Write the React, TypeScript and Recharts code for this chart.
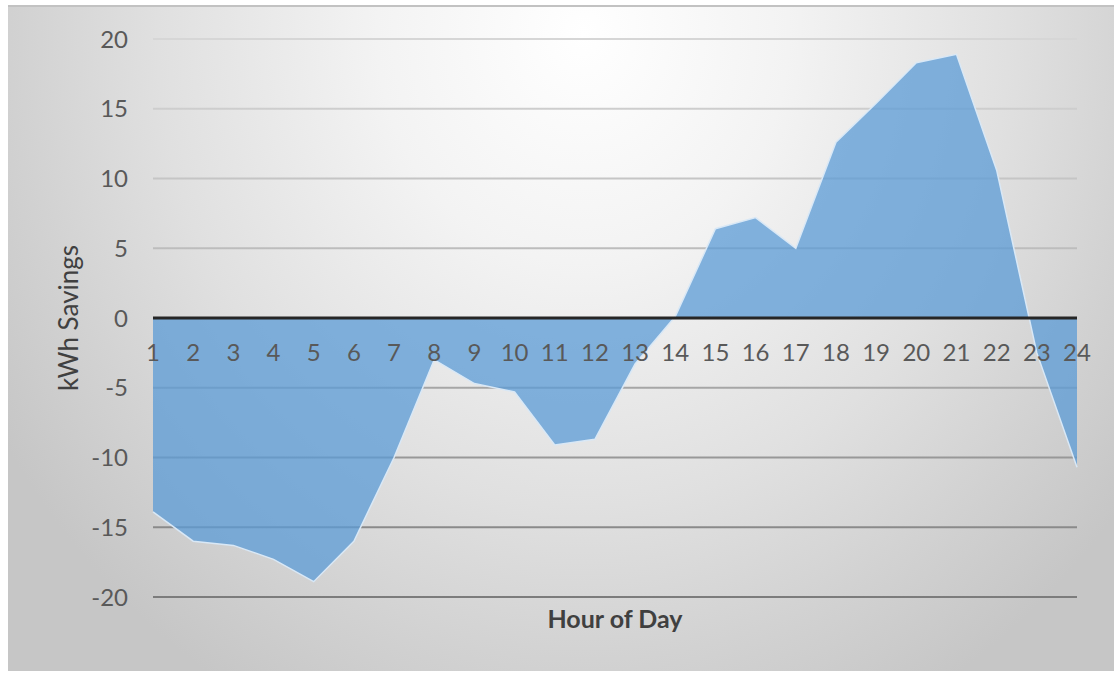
import React from "react";
import {
  AreaChart,
  Area,
  XAxis,
  YAxis,
  CartesianGrid,
  ReferenceLine,
  ReferenceDot,
} from "recharts";

const hours = [1, 2, 3, 4, 5, 6, 7, 8, 9, 10, 11, 12, 13, 14, 15, 16, 17, 18, 19, 20, 21, 22, 23, 24];
const savings = [
  -13.9, -16.0, -16.3, -17.3, -18.9, -16.0, -10.0, -3.0, -4.7, -5.3, -9.1, -8.7,
  -3.3, 0.1, 6.4, 7.2, 5.0, 12.6, 15.4, 18.3, 18.9, 10.6, -2.5, -10.7,
];
const yTicks = [-20, -15, -10, -5, 0, 5, 10, 15, 20];
const xTitle = "Hour of Day";
const yTitle = "kWh Savings";

const data = hours.map((h, i) => ({ hour: h, savings: savings[i] }));

const FONT = "Lato, 'Open Sans', sans-serif";

const YTitle = (props: any) => {
  const vb = props.viewBox || { x: 0, y: 39, width: 153, height: 558 };
  const cx = vb.x + 68;
  const cy = vb.y + vb.height / 2;
  return (
    <text
      x={cx}
      y={cy}
      transform={`rotate(-90 ${cx} ${cy})`}
      textAnchor="middle"
      dominantBaseline="central"
      fill="#404040"
      fontSize={26}
      fontFamily={FONT}
    >
      {yTitle}
    </text>
  );
};

export default function App() {
  return (
    <div
      style={{
        position: "absolute",
        left: 0,
        top: 0,
        width: 1114,
        height: 673,
        background: "#ffffff",
        overflow: "hidden",
      }}
    >
      <div
        style={{
          position: "absolute",
          left: 8,
          top: 5,
          width: 1106,
          height: 666,
          borderTop: "2px solid #c2c2c2",
          boxSizing: "border-box",
          background:
            "radial-gradient(ellipse 62% 115% at 52% 4%, #ffffff 0%, #f3f3f3 30%, #e0e0e0 62%, #d2d2d2 82%, #c6c6c6 100%)",
        }}
      />
      <div style={{ position: "absolute", left: 0, top: 0 }}>
        <AreaChart
          width={1114}
          height={673}
          data={data}
          margin={{ top: 39, right: 37, bottom: 0, left: 0 }}
        >
          <defs>
            <linearGradient id="gridGrad" gradientUnits="userSpaceOnUse" x1="0" y1="39" x2="0" y2="597">
              <stop offset="0%" stopColor="#d6d6d6" />
              <stop offset="50%" stopColor="#b4b4b4" />
              <stop offset="100%" stopColor="#7c7c7c" />
            </linearGradient>
          </defs>
          <CartesianGrid vertical={false} stroke="url(#gridGrad)" strokeWidth={2} />
          <XAxis
            dataKey="hour"
            tick={false}
            axisLine={false}
            tickLine={false}
            height={76}
            label={{
              value: xTitle,
              position: "insideTop",
              offset: 13,
              fill: "#404040",
              fontSize: 25,
              fontWeight: "bold",
              fontFamily: FONT,
            }}
          />
          <YAxis
            domain={[-20, 20]}
            ticks={yTicks}
            width={153}
            axisLine={false}
            tickLine={false}
            tickSize={0}
            tickMargin={25}
            tick={{ fill: "#595959", fontSize: 24, fontFamily: FONT }}
            label={<YTitle />}
          />
          <Area
            type="linear"
            dataKey="savings"
            fill="#5B9BD5"
            fillOpacity={0.75}
            stroke="#d9e8f6"
            strokeWidth={1.5}
            isAnimationActive={false}
          />
          <ReferenceLine y={0} stroke="#262626" strokeWidth={3} />
          {hours.map((h) => (
            <ReferenceDot
              key={h}
              x={h}
              y={0}
              r={1}
              fill="none"
              stroke="none"
              label={{
                value: String(h),
                position: "bottom",
                offset: 25,
                fill: "#595959",
                fontSize: 24,
                fontFamily: FONT,
              }}
            />
          ))}
        </AreaChart>
      </div>
    </div>
  );
}
